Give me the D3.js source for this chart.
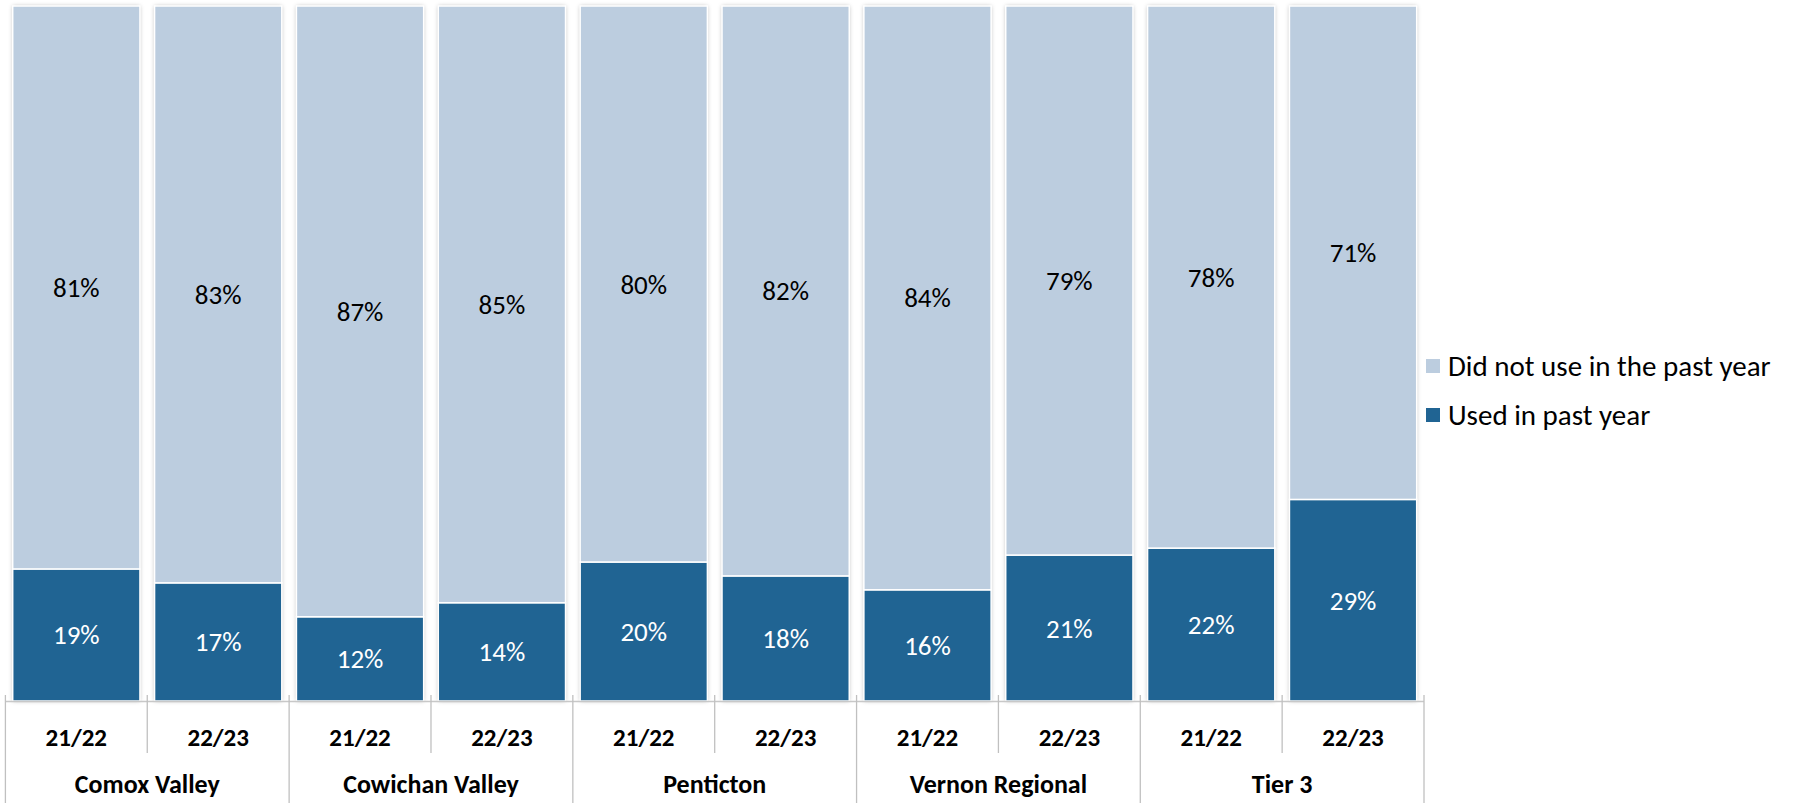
<!DOCTYPE html>
<html><head><meta charset="utf-8">
<script src="https://cdn.jsdelivr.net/npm/d3@7"></script>
<style>body{margin:0;background:#fff;} svg{display:block;} text{font-family:Calibri,Carlito,Lato,sans-serif;}</style>
</head><body><svg id="c" width="1794" height="803"></svg>
<script>
const groups = ["Comox Valley","Cowichan Valley","Penticton","Vernon Regional","Tier 3"];
const years = ["21/22","22/23"];
const used = [19,17,12,14,20,18,16,21,22,29];
const notUsed = [81,83,87,85,80,82,84,79,78,71];
const seriesNames = ["Did not use in the past year","Used in past year"];
const colors = {used:"#206493", notUsed:"#bccddf"};

const cats = [];
groups.forEach(g => years.forEach(y => cats.push(g + "|" + y)));

const svg = d3.select("#c");
const x0 = 5.4, x1 = 1424, yTop = 6, yBase = 701;
const x = d3.scaleBand().domain(cats).range([x0, x1]).paddingInner(0.103).paddingOuter(0.0515);
const y = d3.scaleLinear().domain([0,1]).range([yBase, yTop]);
const step = x.step();

const defs = svg.append("defs");
const f = defs.append("filter").attr("id","sh").attr("x","-10%").attr("y","-5%").attr("width","120%").attr("height","110%");
f.append("feDropShadow").attr("dx",0).attr("dy",0).attr("stdDeviation",2.2).attr("flood-color","#000").attr("flood-opacity",0.28);

const data = cats.map((c,i)=>({c, used:used[i], notUsed:notUsed[i]}));
const stack = d3.stack().keys(["used","notUsed"]).offset(d3.stackOffsetExpand)(data);

const gBars = svg.append("g");
gBars.selectAll("rect.bg").data(data).join("rect")
  .attr("x", d=>x(d.c)).attr("width", x.bandwidth())
  .attr("y", y(1)).attr("height", y(0)-y(1))
  .attr("fill","#fff").attr("filter","url(#sh)");

stack.forEach(s => {
  gBars.selectAll("rect."+s.key).data(s).join("rect")
    .attr("class", s.key)
    .attr("x", d=>x(d.data.c)).attr("width", x.bandwidth())
    .attr("y", d=>y(d[1])).attr("height", d=>y(d[0])-y(d[1]))
    .attr("fill", colors[s.key]).attr("stroke","#fff").attr("stroke-width",1.5);
  gBars.selectAll("text."+s.key).data(s).join("text")
    .attr("class", s.key)
    .attr("x", d=>x(d.data.c)+x.bandwidth()/2)
    .attr("y", d=>(y(d[0])+y(d[1]))/2)
    .attr("text-anchor","middle").attr("dominant-baseline","central")
    .attr("font-size", 27).attr("fill", s.key==="used" ? "#fff" : "#000")
    .text(d=>d.data[s.key] + "%");
});

// axis
const ax = svg.append("g");
ax.append("line").attr("x1",x0).attr("x2",x1).attr("y1",yBase+0.5).attr("y2",yBase+0.5).attr("stroke","#c8c8c8").attr("stroke-width",1.5);
d3.range(cats.length+1).forEach(i=>{
  const xx = x0 + i*step;
  ax.append("line").attr("x1",xx).attr("x2",xx).attr("y1",yBase-6).attr("y2", i%2===0 ? 803 : 753)
    .attr("stroke","#c0c0c0").attr("stroke-width",1.3);
});
ax.selectAll("text.yr").data(cats).join("text").attr("class","yr")
  .attr("x", d=>x(d)+x.bandwidth()/2).attr("y",737)
  .attr("text-anchor","middle").attr("dominant-baseline","central")
  .attr("font-size",25).attr("font-weight","bold").attr("fill","#000")
  .text(d=>d.split("|")[1]);
ax.selectAll("text.grp").data(groups).join("text").attr("class","grp")
  .attr("x", (d,i)=>x0 + (i*2+1)*step).attr("y",793)
  .attr("text-anchor","middle")
  .attr("font-size",26).attr("font-weight","bold").attr("fill","#000")
  .text(d=>d);

// legend
const leg = svg.append("g");
const legItems = [{n:seriesNames[0], c:colors.notUsed, y:366},{n:seriesNames[1], c:colors.used, y:415}];
legItems.forEach(it=>{
  leg.append("rect").attr("x",1426).attr("y",it.y-7).attr("width",14).attr("height",14).attr("fill",it.c);
  leg.append("text").attr("x",1448).attr("y",it.y).attr("dominant-baseline","central")
    .attr("font-size",29).attr("fill","#000").text(it.n);
});
</script></body></html>
